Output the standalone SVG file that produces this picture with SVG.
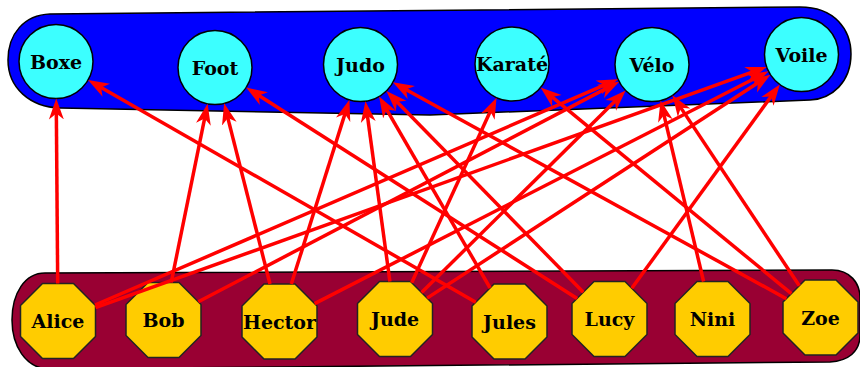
<svg xmlns="http://www.w3.org/2000/svg" width="860" height="367" viewBox="0 0 860 367">
<defs>
<style>
.band{stroke:#000;stroke-width:1.5}
.top{fill:#0000ff}
.bot{fill:#990033}
.sport circle{fill:#3cffff;stroke:#000;stroke-width:1.5}
.person polygon{fill:#ffcc00;stroke:#222;stroke-width:1.5}
text{font-family:"DejaVu Serif","Liberation Serif",serif;font-weight:bold;font-size:19px;fill:#000;text-anchor:middle;dominant-baseline:central}
#edges path{fill:none;stroke:#ff0000;stroke-width:3.5;marker-end:url(#ah)}
</style>
<marker id="ah" markerUnits="userSpaceOnUse" markerWidth="22" markerHeight="16" refX="13" refY="8" orient="auto" viewBox="0 0 22 16">
<path d="M0,0.5 L21,8 L0,15.5 L6,8 Z" fill="#ff0000"/>
</marker>
</defs>
<rect width="860" height="367" fill="#fff"/>
<path class="band top" d="M50,14 L800,7 C835,7 851,30 851,54 C851,82 832,99 810,100 L430,115 L60,108 C30,107 8,88 8,60 C8,34 24,15 50,14 Z"/>
<path class="band bot" d="M45,273 L832,270 C850,270 860,283 860,298 L860,335 C860,352 848,361 830,362 L50,369 C25,369 12,345 12,320 C12,293 25,273 45,273 Z"/>
<g id="n-boxe" class="sport"><circle cx="56" cy="61.5" r="37"/><text x="56" y="61.5">Boxe</text></g>
<g id="n-foot" class="sport"><circle cx="215" cy="67.5" r="37"/><text x="215" y="67.5">Foot</text></g>
<g id="n-judo" class="sport"><circle cx="360.5" cy="64.5" r="37"/><text x="360.5" y="64.5">Judo</text></g>
<g id="n-karate" class="sport"><circle cx="512" cy="64" r="37"/><text x="512" y="64">Karaté</text></g>
<g id="n-velo" class="sport"><circle cx="652" cy="64.5" r="37"/><text x="652" y="64.5">Vélo</text></g>
<g id="n-voile" class="sport"><circle cx="801.5" cy="54.5" r="37"/><text x="801.5" y="54.5">Voile</text></g>
<g id="n-alice" class="person" transform="translate(58,321)"><polygon points="-15.5,-37.5 15.5,-37.5 37.5,-15.5 37.5,15.5 15.5,37.5 -15.5,37.5 -37.5,15.5 -37.5,-15.5"/><text x="0" y="0">Alice</text></g>
<g id="n-bob" class="person" transform="translate(163.5,320)"><polygon points="-15.5,-37.5 15.5,-37.5 37.5,-15.5 37.5,15.5 15.5,37.5 -15.5,37.5 -37.5,15.5 -37.5,-15.5"/><text x="0" y="0">Bob</text></g>
<g id="n-hector" class="person" transform="translate(279.5,321.5)"><polygon points="-15.5,-37.5 15.5,-37.5 37.5,-15.5 37.5,15.5 15.5,37.5 -15.5,37.5 -37.5,15.5 -37.5,-15.5"/><text x="0" y="0">Hector</text></g>
<g id="n-jude" class="person" transform="translate(395,319)"><polygon points="-15.5,-37.5 15.5,-37.5 37.5,-15.5 37.5,15.5 15.5,37.5 -15.5,37.5 -37.5,15.5 -37.5,-15.5"/><text x="0" y="0">Jude</text></g>
<g id="n-jules" class="person" transform="translate(509.5,321.5)"><polygon points="-15.5,-37.5 15.5,-37.5 37.5,-15.5 37.5,15.5 15.5,37.5 -15.5,37.5 -37.5,15.5 -37.5,-15.5"/><text x="0" y="0">Jules</text></g>
<g id="n-lucy" class="person" transform="translate(609.5,319)"><polygon points="-15.5,-37.5 15.5,-37.5 37.5,-15.5 37.5,15.5 15.5,37.5 -15.5,37.5 -37.5,15.5 -37.5,-15.5"/><text x="0" y="0">Lucy</text></g>
<g id="n-nini" class="person" transform="translate(712.5,319)"><polygon points="-15.5,-37.5 15.5,-37.5 37.5,-15.5 37.5,15.5 15.5,37.5 -15.5,37.5 -37.5,15.5 -37.5,-15.5"/><text x="0" y="0">Nini</text></g>
<g id="n-zoe" class="person" transform="translate(820.5,317.5)"><polygon points="-15.5,-37.5 15.5,-37.5 37.5,-15.5 37.5,15.5 15.5,37.5 -15.5,37.5 -37.5,15.5 -37.5,-15.5"/><text x="0" y="0">Zoe</text></g>
<g id="edges">
<path d="M57.7,283.5 L56.3,106.5"/>
<path d="M95,305 L610.7,82.3"/>
<path d="M95.5,307.6 L759.1,69.7"/>
<path d="M171.2,282.5 L206,111.6"/>
<path d="M198.3,301.8 L612.1,85.4"/>
<path d="M270,284 L226.1,111.1"/>
<path d="M291.3,284 L347,107.4"/>
<path d="M314.6,303.6 L761.4,75"/>
<path d="M389.9,281.5 L366.5,109.1"/>
<path d="M411.7,282.7 L493.2,104.9"/>
<path d="M421.6,292.6 L620,96.2"/>
<path d="M427.1,298.1 L763.8,79"/>
<path d="M475.8,302.2 L95,83.9"/>
<path d="M490.1,288 L383.1,103.4"/>
<path d="M577.1,298.4 L252.9,91.7"/>
<path d="M583.3,292.2 L392,96.7"/>
<path d="M631.8,288.3 L775.1,90.9"/>
<path d="M703.6,281.5 L662.4,108.3"/>
<path d="M786.3,298.7 L399.9,86.2"/>
<path d="M791.4,293.6 L546.8,92.6"/>
<path d="M799.3,285.7 L676.9,101.9"/>
</g>
</svg>
